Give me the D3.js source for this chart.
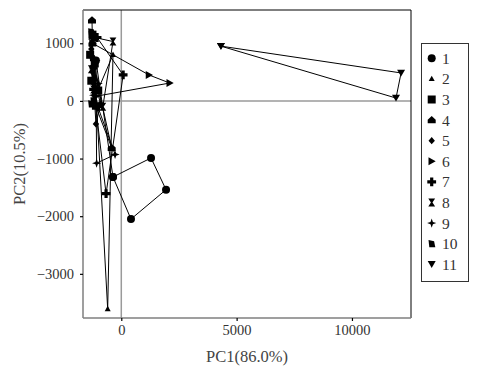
<!DOCTYPE html>
<html><head><meta charset="utf-8">
<script src="https://cdn.jsdelivr.net/npm/d3@7"></script>
<style>body{margin:0;background:#fff}svg{display:block}</style>
</head><body>
<script>
// ---- data ----
const groupNames = ["1","2","3","4","5","6","7","8","9","10","11"];
const g1 = [[-1100,700],[-360,-1320],[1290,-990],[1940,-1540],[420,-2050],[-360,-1320]];
const g2 = [[-1300,1100],[-1180,710],[-590,-3610],[-360,800],[-1000,200]];
const g3 = [[-1250,1150],[-1350,800],[-1150,650],[-1000,180],[-1300,350]];
const g4 = [[-1270,1400],[-1250,1000],[-1100,-100],[-416,-815],[-1200,600]];
const g5 = [[-1300,900],[-1200,300],[-1100,-400],[-900,-50],[-1250,500]];
const g6 = [[-1250,1000],[1200,450],[2100,310],[-1100,80]];
const g7 = [[-1050,1100],[80,450],[-660,-1610],[-1200,200],[-1000,-100]];
const g8 = [[-1150,1100],[-360,1030],[-800,-100],[-1300,550],[-1200,200]];
const g9 = [[-1100,700],[-1070,-1080],[-270,-930],[-1200,100],[-1000,300]];
const g10 = [[-1300,1200],[-1250,750],[-1150,400],[-1300,-50],[-1200,0]];
const g11 = [[4320,950],[12130,485],[11910,50],[4320,950]];
const groups = [g1,g2,g3,g4,g5,g6,g7,g8,g9,g10,g11];
const xTicks = [0,5000,10000];
const yTicks = [-3000,-2000,-1000,0,1000];
const xTitle = "PC1(86.0%)";
const yTitle = "PC2(10.5%)";

// ---- layout ----
const W=485,H=367;
const L=83,R=411,T=10,B=318;
const font = "'Liberation Serif','DejaVu Serif',serif";
const svg = d3.select("body").append("svg").attr("width",W).attr("height",H);
const x = d3.scaleLinear().domain([-1660,12560]).range([L,R]);
const y = d3.scaleLinear().domain([-3766,1577]).range([B,T]);

// shapes
function shapePath(i, s){
  switch(i){
    case 0: return d3.symbol(d3.symbolCircle, Math.PI*s*s)();
    case 1: return `M0,${-s*0.8}L${s*0.75},${s*0.55}L${-s*0.75},${s*0.55}Z`;
    case 2: return `M${-s},${-s}H${s}V${s}H${-s}Z`;
    case 3: return `M0,${-s}L${s},${-s*0.1}V${s*0.8}H${-s}V${-s*0.1}Z`;
    case 4: return `M0,${-s*0.9}L${s*0.8},0L0,${s*0.9}L${-s*0.8},0Z`;
    case 5: return `M${-s*0.8},${-s}L${s},0L${-s*0.8},${s}Z`;
    case 6: { const a=s*1.1,b=s*0.4; return `M${-b},${-a}H${b}V${-b}H${a}V${b}H${b}V${a}H${-b}V${b}H${-a}V${-b}H${-b}Z`; }
    case 7: return `M${-s*0.85},${-s}H${s*0.85}L${s*0.2},0L${s*0.85},${s}H${-s*0.85}L${-s*0.2},0Z`;
    case 8: { const a=s*1.15,b=s*0.3; return `M0,${-a}L${b},${-b}L${a},0L${b},${b}L0,${a}L${-b},${b}L${-a},0L${-b},${-b}Z`; }
    case 9: return `M${-s*0.8},${-s*0.9}L${s*0.6},${-s*0.6}L${s*0.9},${s*0.9}L${-s*0.6},${s*0.9}Z`;
    case 10: return `M${-s},${-s*0.8}H${s}L0,${s*0.9}Z`;
  }
}

// zero reference lines
svg.append("line").attr("x1",x(0)).attr("x2",x(0)).attr("y1",T).attr("y2",B)
  .attr("stroke","#9a9a9a").attr("stroke-width",1.5);
svg.append("line").attr("x1",L).attr("x2",R).attr("y1",y(0)).attr("y2",y(0))
  .attr("stroke","#9a9a9a").attr("stroke-width",1.5);

// paths
const line = d3.line().x(d=>x(d[0])).y(d=>y(d[1]));
const plot = svg.append("g");
groups.forEach((g,i)=>{
  plot.append("path").attr("d",line(g)).attr("fill","none").attr("stroke","#000").attr("stroke-width",1);
});
groups.forEach((g,i)=>{
  plot.selectAll(null).data(g).enter().append("path")
    .attr("transform",d=>`translate(${x(d[0])},${y(d[1])})`)
    .attr("d",shapePath(i,4)).attr("fill","#000");
});

// panel border
svg.append("line").attr("x1",L).attr("x2",R).attr("y1",T).attr("y2",T).attr("stroke","#000");
svg.append("line").attr("x1",R).attr("x2",R).attr("y1",T).attr("y2",B).attr("stroke","#000");
svg.append("line").attr("x1",L).attr("x2",L).attr("y1",T).attr("y2",B).attr("stroke","#7f7f7f").attr("stroke-width",1.5);
svg.append("line").attr("x1",L).attr("x2",R).attr("y1",B).attr("y2",B).attr("stroke","#7f7f7f").attr("stroke-width",1.5);

// axes
const xa = svg.append("g").attr("transform",`translate(0,${B})`)
  .call(d3.axisBottom(x).tickValues(xTicks).tickSize(3).tickPadding(4).tickFormat(d3.format("d")));
const ya = svg.append("g").attr("transform",`translate(${L},0)`)
  .call(d3.axisLeft(y).tickValues(yTicks).tickSize(3).tickPadding(6).tickFormat(d3.format("d")));
[xa,ya].forEach(a=>{
  a.select(".domain").remove();
  a.selectAll(".tick line").attr("stroke","#000").attr("stroke-width",1.2);
  a.selectAll(".tick text").attr("font-family",font).attr("font-size",14.5).attr("fill","#333");
});

// titles
svg.append("text").attr("x",(L+R)/2).attr("y",362).attr("text-anchor","middle")
  .attr("font-family",font).attr("font-size",16.5).attr("fill","#444").text(xTitle);
svg.append("text").attr("transform",`translate(25,${(T+B)/2}) rotate(-90)`).attr("text-anchor","middle")
  .attr("font-family",font).attr("font-size",16.5).attr("fill","#444").text(yTitle);

// legend
const lg = svg.append("g");
lg.append("rect").attr("x",421.5).attr("y",43.5).attr("width",47).attr("height",238)
  .attr("fill","#fff").attr("stroke","#333").attr("stroke-width",1);
groupNames.forEach((n,i)=>{
  const yy = 58.3 + i*20.6;
  lg.append("path").attr("transform",`translate(431.7,${yy})`).attr("d",shapePath(i,4)).attr("fill","#000");
  lg.append("text").attr("x",442).attr("y",yy).attr("dy","0.35em")
    .attr("font-family",font).attr("font-size",15.5).attr("fill","#333").text(n);
});
</script>
</body></html>
